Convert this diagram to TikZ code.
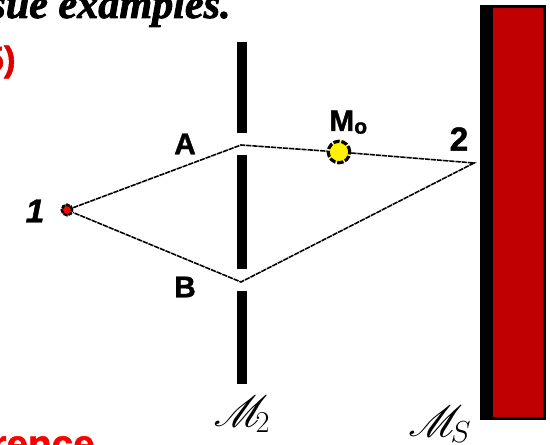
\documentclass[tikz,border=0pt]{standalone}
\usepackage{amsmath,amssymb}
\usepackage{mathrsfs}
\usepackage{fontspec}
\setmainfont{Liberation Sans}
\newfontfamily\heavyfont[FakeBold=1.3]{Liberation Sans Bold}
\newfontfamily\heavyslant[FakeBold=1.3]{Liberation Sans Bold Italic}
\newfontfamily\serifheavy[FakeBold=2]{Liberation Serif Bold Italic}
\usepackage{tikz}
\usetikzlibrary{positioning}
\definecolor{screenred}{RGB}{192,0,0}
\definecolor{headred}{RGB}{220,0,0}

\begin{document}
\begin{tikzpicture}[
    x=0.02cm, y=-0.02cm,
    barpart/.style={fill=black, inner sep=0pt, minimum width=0.2cm},
    ray/.style={draw=black, line width=0.9pt, dash pattern=on 3pt off 0.5pt},
    lbl/.style={font=\fontsize{17}{19}\selectfont\heavyfont, inner sep=0pt},
    num/.style={font=\fontsize{19}{21}\selectfont\heavyfont, inner sep=0pt},
    mlbl/.style={font=\fontsize{23}{25}\selectfont, inner sep=0pt},
]
\useasboundingbox (0,0) rectangle (550,445);
\clip (0,0) rectangle (550,445);

% Cut-off slide text
\node[anchor=base east, inner sep=0pt, font=\fontsize{24}{26}\selectfont\serifheavy] (head) at (231,18) {sue examples.};
\node[anchor=base east, inner sep=0pt, text=headred, font=\fontsize{20}{22}\selectfont\heavyfont] (num5) at (16,71) {5)};
\node[anchor=base east, inner sep=0pt, text=red, font=\fontsize{22}{24}\selectfont\heavyfont] (foot) at (95,457) {rence};

% Screen
\node[fill=black, inner sep=0pt, minimum width=1.32cm, minimum height=8.3cm, anchor=north west] (screenedge) at (480,5) {};
\node[fill=screenred, inner sep=0pt, minimum width=1cm, minimum height=8.18cm, anchor=north west] (screen) at (493,8) {};

% Middle wall with two slits
\node[barpart, minimum height=1.82cm, anchor=north] (bartop) at (242,42) {};
\node[barpart, minimum height=2.28cm, anchor=north] (barmid) at (242,155) {};
\node[barpart, minimum height=1.86cm, anchor=north] (barlow) at (242,291) {};

% Points on the paths
\node[circle, draw=black, line width=1.4pt, dash pattern=on 2.4pt off 0.5pt, fill=red, inner sep=0pt, minimum size=0.21cm] (one) at (67,210) {};
\node[circle, draw=black, line width=1.8pt, dash pattern=on 3.6pt off 1pt, fill=yellow, inner sep=0pt, minimum size=0.43cm] (mo) at (339,152) {};
\coordinate (slita) at (241,145);
\coordinate (slitb) at (241,282);
\coordinate (two) at (474,163);

% Paths
\draw[ray] (one) -- (slita) -- (mo);
\draw[ray] (mo) -- (two) -- (slitb) -- (one);

% Labels
\node[lbl] (la) at (185,144) {A};
\node[lbl] (lb) at (185,287) {B};
\node[num, font=\fontsize{19}{21}\selectfont\heavyslant] (l1) at (35,211) {1};
\node[num] (l2) at (459,139) {2};
\node[lbl, anchor=base west] (lmo) at (329,131) {M\raisebox{-1.5pt}{\fontsize{12}{13}\selectfont o}};
\node[mlbl] (lm2) at (242,414) {$\mathscr{M}_{\!2}$};
\node[mlbl] (lms) at (440,424) {$\mathscr{M}_{\!S}$};
\end{tikzpicture}
\end{document}
